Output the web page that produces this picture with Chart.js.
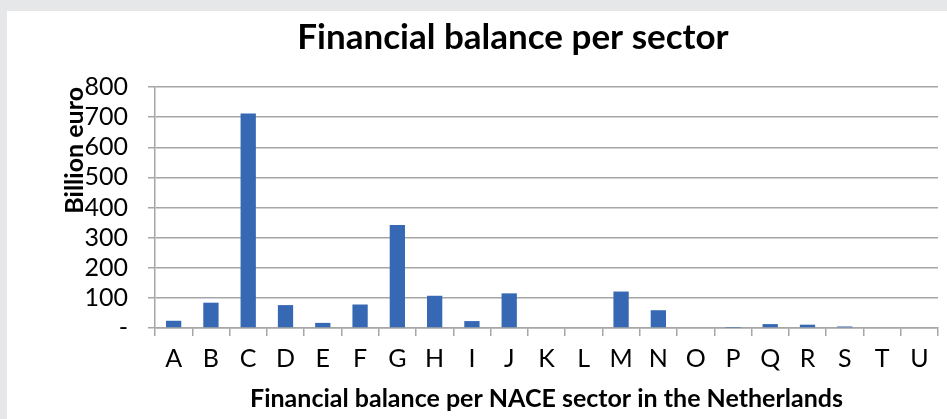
<!DOCTYPE html>
<html>
<head>
<meta charset="utf-8">
<script src="https://cdn.jsdelivr.net/npm/chart.js@4/dist/chart.umd.min.js"></script>
<style>
  html, body { margin: 0; padding: 0; background: #e6e7e9; }
  #panel { position: absolute; left: 7px; top: 11px; width: 940px; height: 408px; background: #fff; }
</style>
</head>
<body>
<div id="panel"><canvas id="balanceChart" width="940" height="408"></canvas></div>
<script>
// NACE sectors and financial balance (billion euro)
const sectors = ["A", "B", "C", "D", "E", "F", "G", "H", "I", "J", "K", "L", "M", "N", "O", "P", "Q", "R", "S", "T", "U"];
const balance = [24, 84, 712, 76, 17, 78, 342, 107, 23, 115, 0, 0, 121, 59, 0, 1, 13, 11, 5, 0, 0];
const yTicks = [0, 100, 200, 300, 400, 500, 600, 700, 800];

const gridGray = "#a6a6a6";

// the title in the original is centred a little right of the plot box
const shiftTitle = {
  id: "shiftTitle",
  afterLayout: (chart) => {
    if (chart.titleBlock) {
      chart.titleBlock.left += 16;
      chart.titleBlock.right += 16;
    }
  },
};

document.addEventListener("DOMContentLoaded", () => {
  const el = document.getElementById("balanceChart");
  new Chart(el, {
    type: "bar",
    data: {
      labels: sectors,
      datasets: [
        {
          label: "Financial balance",
          data: balance,
          backgroundColor: "#3668b4",
          barPercentage: 0.41,
          categoryPercentage: 1,
        },
      ],
    },
    options: {
      responsive: false,
      animation: false,
      layout: { padding: { left: 49, right: 9, top: 0, bottom: 0 } },
      plugins: {
        legend: { display: false },
        tooltip: { enabled: false },
        title: {
          display: true,
          text: "Financial balance per sector",
          color: "#000",
          font: { family: "Lato", size: 35, weight: "bold" },
          padding: { top: 6, bottom: 28 },
        },
      },
      scales: {
        x: {
          grid: {
            color: gridGray,
            lineWidth: 1.5,
            drawOnChartArea: false,
            tickLength: 8,
          },
          border: { color: gridGray, width: 1.5 },
          ticks: {
            color: "#000",
            font: { family: "Lato", size: 25 },
            padding: 8,
            maxRotation: 0,
            autoSkip: false,
          },
          title: {
            display: true,
            text: "Financial balance per NACE sector in the Netherlands",
            color: "#000",
            font: { family: "Lato", size: 25, weight: "bold" },
            padding: { top: 2, bottom: 5 },
          },
          afterFit: (scale) => {
            scale.height = 91;
          },
        },
        y: {
          min: 0,
          max: 800,
          afterBuildTicks: (scale) => {
            scale.ticks = yTicks.map((v) => ({ value: v }));
          },
          grid: { color: gridGray, lineWidth: 1.5, tickLength: 7 },
          border: { color: gridGray, width: 1.5 },
          ticks: {
            color: "#000",
            font: { family: "Lato", size: 25 },
            padding: 20,
            autoSkip: false,
            callback: (v) => (v === 0 ? "-" : v),
          },
          title: {
            display: true,
            text: "Billion euro",
            align: "end",
            color: "#000",
            font: { family: "Lato", size: 25, weight: "bold" },
            padding: { top: 4, bottom: 0 },
          },
          afterFit: (scale) => {
            scale.width = 99;
          },
        },
      },
    },
    plugins: [shiftTitle],
  });
});
</script>
</body>
</html>
